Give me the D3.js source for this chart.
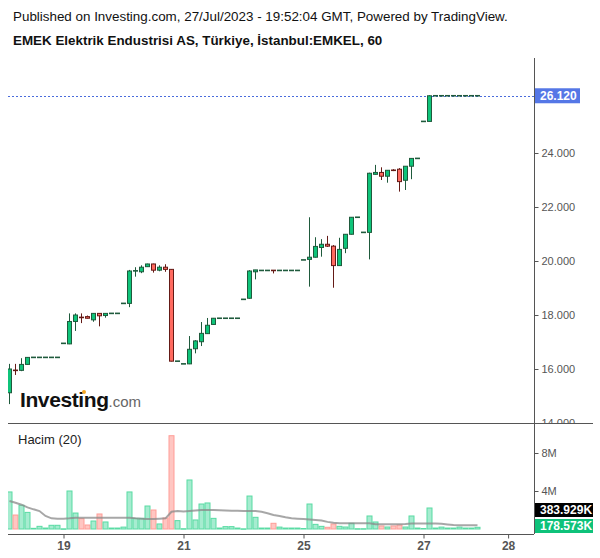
<!DOCTYPE html>
<html>
<head>
<meta charset="utf-8">
<script src="https://cdn.jsdelivr.net/npm/d3@7"></script>
<style>
body{margin:0;background:#fff;}
svg{display:block;font-family:"Liberation Sans",Arial,sans-serif;}
</style>
</head>
<body>
<div id="main"></div>
<script>
// hourly candles, EMKEL 18-27 Jul 2023
var opens  = [15.12,15.97,15.95,16.17,16.43,16.43,16.43,16.43,16.43,16.95,
              16.93,17.76,17.92,17.94,17.82,18.06,17.98,18.06,18.06,18.43,
              18.43,19.63,19.60,19.79,19.89,19.66,19.77,19.69,16.29,16.19,
              16.19,16.75,17.01,17.31,17.65,17.88,17.88,17.88,17.88,18.58,
              18.62,19.60,19.65,19.65,19.66,19.65,19.65,19.65,19.65,20.04,
              20.06,20.14,20.50,20.62,20.55,19.83,20.47,20.99,21.62,21.06,
              21.06,23.21,23.28,23.14,23.37,23.40,22.99,23.51,23.80,25.17,
              25.17,26.12,26.12,26.12,26.12,26.12,26.12,26.12,26.12];
var highs  = [16.19,16.19,16.40,16.44,16.43,16.43,16.43,16.43,16.43,16.95,
              18.06,18.06,18.06,17.98,18.07,18.07,18.07,18.06,18.06,18.43,
              19.67,19.77,19.84,19.90,19.90,19.84,19.88,19.70,16.29,16.19,
              17.22,17.07,17.74,17.89,17.89,17.88,17.88,17.88,17.88,18.58,
              19.66,19.67,19.65,19.65,19.66,19.65,19.65,19.65,19.65,20.04,
              21.62,20.88,20.81,20.93,20.59,20.86,21.00,21.62,21.62,21.06,
              23.27,23.56,23.47,23.36,23.40,23.44,23.51,23.80,23.80,25.17,
              26.14,26.12,26.12,26.12,26.12,26.12,26.12,26.12,26.12];
var lows   = [14.70,15.78,15.92,16.15,16.43,16.43,16.43,16.43,16.43,16.95,
              16.92,17.41,17.70,17.87,17.75,17.58,17.90,18.06,18.06,18.43,
              18.29,19.42,19.55,19.78,19.57,19.62,19.60,16.28,16.29,16.19,
              16.18,16.58,16.85,17.30,17.64,17.88,17.88,17.88,17.88,18.58,
              18.60,19.32,19.65,19.65,19.54,19.65,19.65,19.65,19.65,20.04,
              19.05,20.13,20.16,20.52,19.01,19.82,20.29,20.98,21.62,21.06,
              20.06,23.20,23.00,22.90,23.33,22.57,22.63,23.03,23.80,25.17,
              25.16,26.12,26.12,26.12,26.12,26.12,26.12,26.12,26.12];
var closes = [16.00,15.93,16.17,16.43,16.43,16.43,16.43,16.43,16.43,16.95,
              17.76,18.00,17.90,17.88,18.06,17.97,18.06,18.06,18.06,18.43,
              19.63,19.64,19.77,19.89,19.66,19.77,19.69,16.29,16.29,16.19,
              16.73,17.04,17.32,17.62,17.88,17.88,17.88,17.88,17.88,18.58,
              19.63,19.67,19.65,19.65,19.64,19.65,19.65,19.65,19.65,20.04,
              20.14,20.54,20.62,20.55,19.83,20.43,20.99,21.62,21.62,21.06,
              23.25,23.28,23.14,23.36,23.35,22.94,23.51,23.80,23.80,25.17,
              26.12,26.12,26.12,26.12,26.12,26.12,26.12,26.12,26.12];
// volume in millions and its 20 period average
var volumes = [3.90,1.47,2.50,1.75,0.07,0.28,0.10,0.39,0.39,0.02,
               4.00,1.68,1.09,0.42,0.84,1.58,0.74,0.10,0.10,0.20,
               3.90,1.12,1.12,2.42,2.00,0.53,1.16,9.82,0.88,0.03,
               5.16,0.95,2.63,2.74,1.12,0.10,0.25,0.25,0.10,0.02,
               3.47,1.23,0.10,0.10,0.60,0.20,0.10,0.10,0.10,0.05,
               2.63,0.49,0.28,0.18,0.53,0.28,0.21,0.60,0.03,0.03,
               1.37,0.74,0.32,0.21,0.32,0.42,0.21,1.37,0.10,0.05,
               2.21,0.10,0.20,0.10,0.10,0.20,0.10,0.10,0.18];
var volMA = [2.95,2.77,2.56,2.28,2.07,1.89,1.37,1.12,1.09,1.09,
             1.12,1.19,1.19,1.19,1.19,1.19,1.19,1.19,1.19,1.19,
             1.19,1.12,1.08,1.05,1.05,1.08,1.12,1.82,1.89,1.85,
             1.90,1.95,2.00,2.00,2.00,1.98,1.95,1.93,1.93,1.90,
             1.90,1.89,1.82,1.65,1.47,1.37,1.23,1.12,1.09,1.05,
             1.00,0.95,0.90,0.75,0.65,0.60,0.60,0.60,0.60,0.60,
             0.60,0.50,0.50,0.50,0.50,0.50,0.52,0.58,0.58,0.58,
             0.58,0.58,0.55,0.48,0.42,0.40,0.39,0.385,0.384];
var dayLabels = ['19','21','25','27','28'];
var dayIndex  = [9,29,49,69,83.1];
var priceTicks = [14,16,18,20,22,24];
var volTicks = [4,8];
var lastPrice = 26.12;

var W=600,H=558;
var left=8,right=534,pTop=58,pBot=423,vBot=534;

var svg=d3.select('#main').append('svg').attr('width',W).attr('height',H);

svg.append('text').attr('x',13).attr('y',21).attr('font-size',13.4).attr('fill','#111')
  .text('Published on Investing.com, 27/Jul/2023 - 19:52:04 GMT, Powered by TradingView.');
svg.append('text').attr('x',13).attr('y',45).attr('font-size',13.4).attr('font-weight','bold').attr('fill','#111')
  .text('EMEK Elektrik Endustrisi AS, Türkiye, İstanbul:EMKEL, 60');

var x=d3.scaleLinear().domain([0,1]).range([9.5,15.5]);
var y=d3.scaleLinear().domain([14,24]).range([423,153]);
var yv=d3.scaleLinear().domain([0,8]).range([529,453]);

var defs=svg.append('defs');
defs.append('clipPath').attr('id','pclip').append('rect')
  .attr('x',left).attr('y',pTop).attr('width',right-left).attr('height',pBot-pTop);
defs.append('clipPath').attr('id','vclip').append('rect')
  .attr('x',left).attr('y',pBot).attr('width',right-left).attr('height',vBot-pBot);
defs.append('clipPath').attr('id','aclip').append('rect')
  .attr('x',right).attr('y',pTop).attr('width',W-right).attr('height',pBot-pTop);

var bars=d3.range(opens.length).map(function(i){
  return {i:i,o:opens[i],h:highs[i],l:lows[i],c:closes[i],v:volumes[i],up:closes[i]>=opens[i]};
});

var upFill='#0fc47a',upLine='#1f5a3c',dnFill='#ff6a60',dnLine='#641a16';

// logo
var logo=svg.append('g');
logo.append('text').attr('x',20).attr('y',407).attr('font-size',21).attr('font-weight','bold')
  .attr('fill','#111').attr('letter-spacing',-0.4).text('Investing')
  .append('tspan').attr('font-size',15).attr('font-weight','normal').attr('fill','#666').attr('letter-spacing',0).text('.com');
logo.append('circle').attr('cx',84).attr('cy',392).attr('r',2).attr('fill','#f5a623');

// price pane
var pg=svg.append('g').attr('clip-path','url(#pclip)');

pg.append('line').attr('x1',left).attr('x2',right).attr('y1',Math.round(y(lastPrice))+0.5).attr('y2',Math.round(y(lastPrice))+0.5)
  .attr('stroke','#4a6cdc').attr('stroke-width',1).attr('stroke-dasharray','2,2');

var cg=pg.selectAll('g.c').data(bars).enter().append('g').attr('class','c');
cg.append('line')
  .attr('x1',function(d){return x(d.i)}).attr('x2',function(d){return x(d.i)})
  .attr('y1',function(d){return y(d.h)}).attr('y2',function(d){return y(d.l)})
  .attr('stroke',function(d){return d.up?upLine:dnLine}).attr('stroke-width',1);
cg.each(function(d){
  var g=d3.select(this);
  var y0=y(Math.max(d.o,d.c)),y1=y(Math.min(d.o,d.c));
  if(y1-y0<1.5){
    g.append('line').attr('x1',x(d.i)-2.5).attr('x2',x(d.i)+2.5)
      .attr('y1',(y0+y1)/2).attr('y2',(y0+y1)/2)
      .attr('stroke',d.up?upLine:dnLine).attr('stroke-width',1.6);
  } else {
    g.append('rect').attr('x',x(d.i)-2).attr('width',4)
      .attr('y',y0).attr('height',y1-y0)
      .attr('fill',d.up?upFill:dnFill).attr('stroke',d.up?upLine:dnLine).attr('stroke-width',1);
  }
});

// volume pane
var vg=svg.append('g').attr('clip-path','url(#vclip)');
vg.selectAll('rect').data(bars).enter().append('rect')
  .attr('x',function(d){return x(d.i)-2.5}).attr('width',5)
  .attr('y',function(d){return yv(d.v)}).attr('height',function(d){return Math.max(0.5,yv(0)-yv(d.v))})
  .attr('fill',function(d){return d.up?'#a6ecd0':'#ffc6c2'})
  .attr('stroke',function(d){return d.up?'#59dba3':'#ff9d97'}).attr('stroke-width',1);
vg.append('path').datum(volMA)
  .attr('d',d3.line().x(function(d,i){return x(i)}).y(function(d){return yv(d)}))
  .attr('fill','none').attr('stroke','#8a8a8a').attr('stroke-opacity',0.75).attr('stroke-width',2);

svg.append('text').attr('x',18).attr('y',444).attr('font-size',13).attr('fill','#222').text('Hacim (20)');

// axes lines
var axisColor='#555';
svg.append('line').attr('x1',right+0.5).attr('x2',right+0.5).attr('y1',pTop).attr('y2',vBot).attr('stroke',axisColor);
svg.append('line').attr('x1',left).attr('x2',593).attr('y1',pBot+0.5).attr('y2',pBot+0.5).attr('stroke',axisColor);
svg.append('line').attr('x1',left).attr('x2',right).attr('y1',vBot+0.5).attr('y2',vBot+0.5).attr('stroke',axisColor);

// price axis (clipped to the price pane, so 14.000 is cut in half)
var paWrap=svg.append('g').attr('clip-path','url(#aclip)');
var pa=paWrap.append('g').attr('transform','translate('+(right+0.5)+',0)');
pa.call(d3.axisRight(y).tickValues(priceTicks).tickFormat(d3.format('.3f')).tickSize(4).tickPadding(3));
pa.select('.domain').remove();
pa.selectAll('line').attr('stroke',axisColor);
pa.selectAll('text').attr('font-size',11).attr('font-family','"Liberation Sans",Arial,sans-serif').attr('fill','#555');

// volume axis
var va=svg.append('g').attr('transform','translate('+(right+0.5)+',0)');
va.call(d3.axisRight(yv).tickValues(volTicks).tickFormat(function(d){return d+'M'}).tickSize(4).tickPadding(3));
va.select('.domain').remove();
va.selectAll('line').attr('stroke',axisColor);
va.selectAll('text').attr('font-size',11).attr('font-family','"Liberation Sans",Arial,sans-serif').attr('fill','#555');

// time axis
var ta=svg.append('g').attr('transform','translate(0,'+(vBot+0.5)+')');
ta.call(d3.axisBottom(x).tickValues(dayIndex).tickFormat(function(d,i){return dayLabels[i]}).tickSize(4).tickPadding(3));
ta.select('.domain').remove();
ta.selectAll('line').attr('stroke',axisColor);
ta.selectAll('text').attr('font-size',12).attr('font-weight','bold').attr('font-family','"Liberation Sans",Arial,sans-serif').attr('fill','#555');

// last value labels
function tag(yc,txt,bg){
  var g=svg.append('g');
  g.append('rect').attr('x',right+1).attr('y',yc-7).attr('width',58).attr('height',14).attr('fill',bg);
  g.append('text').attr('x',right+6).attr('y',yc+4).attr('font-size',12).attr('font-weight','bold')
    .attr('fill','#fff').text(txt);
}
svg.append('rect').attr('x',right+1).attr('y',y(lastPrice)-7.5).attr('width',45).attr('height',15).attr('fill','#5577e6');
svg.append('text').attr('x',right+6).attr('y',y(lastPrice)+4).attr('font-size',12).attr('font-weight','bold')
  .attr('fill','#fff').text(d3.format('.3f')(lastPrice));
tag(510,'383.929K','#000');
tag(526,'178.573K','#0ec27a');
</script>
</body>
</html>
